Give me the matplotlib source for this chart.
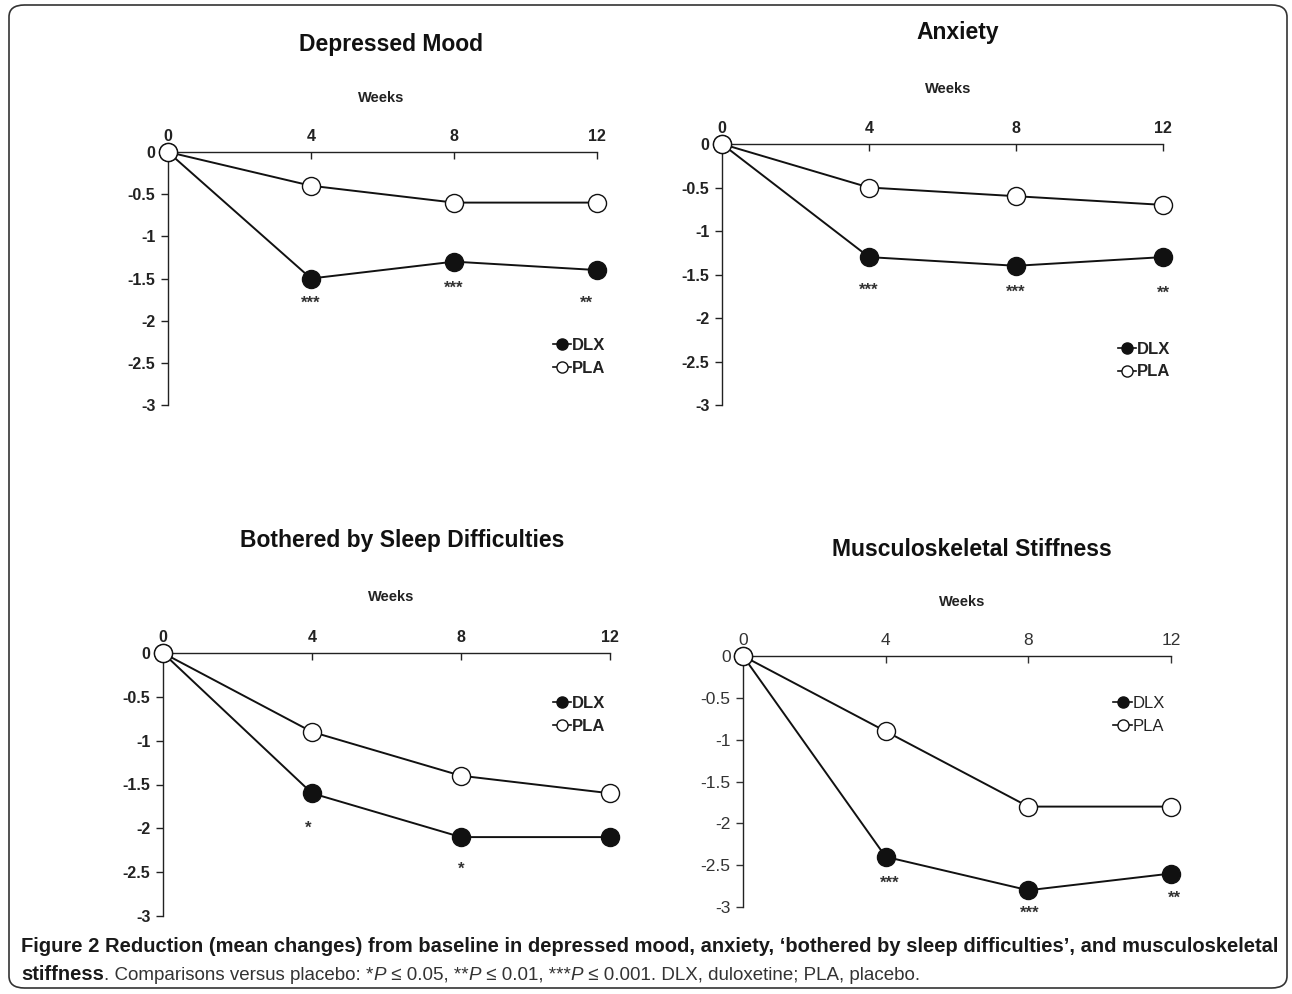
import matplotlib.pyplot as plt
from matplotlib.patches import FancyBboxPatch
from matplotlib.lines import Line2D

weeks = [0, 4, 8, 12]
titles = ['Depressed Mood', 'Anxiety', 'Bothered by Sleep Difficulties', 'Musculoskeletal Stiffness']
dlx = [
    [0, -1.5, -1.3, -1.4],
    [0, -1.3, -1.4, -1.3],
    [0, -1.6, -2.1, -2.1],
    [0, -2.4, -2.8, -2.6],
]
pla = [
    [0, -0.4, -0.6, -0.6],
    [0, -0.5, -0.6, -0.7],
    [0, -0.9, -1.4, -1.6],
    [0, -0.9, -1.8, -1.8],
]
# significance stars: (week, y position, label)
stars = [
    [(4, -1.79, '***'), (8, -1.61, '***'), (11.7, -1.79, '**')],
    [(4, -1.68, '***'), (8, -1.70, '***'), (12, -1.71, '**')],
    [(3.9, -2.0, '*'), (8, -2.47, '*')],
    [(4.1, -2.72, '***'), (8.05, -3.07, '***'), (12.1, -2.89, '**')],
]
yticks = [0, -0.5, -1, -1.5, -2, -2.5, -3]
ytick_labels = ['0', '-0.5', '-1', '-1.5', '-2', '-2.5', '-3']

W, H = 1292, 994
fig = plt.figure(figsize=(W / 100, H / 100), dpi=100)
plt.rcParams['font.family'] = ['Liberation Sans', 'DejaVu Sans']

# axes boxes in pixels: left, right, top(y=0), bottom(y=-3)
boxes = [(168, 597, 152, 405), (722, 1163, 144, 405), (163, 610, 653, 916), (743, 1171, 656, 907)]
title_pos = [(391, 44), (958, 32), (402, 541), (972, 549)]
weeks_pos = [(381, 98), (948, 89), (391, 597), (962, 602)]
legend_pos = [(1.02, 0.19), (1.016, 0.17), (0.99, 0.764), (0.986, 0.765)]
bold_ticks = [True, True, True, False]

for i in range(4):
    l, r, t, b = boxes[i]
    ax = fig.add_axes([l / W, 1 - b / H, (r - l) / W, (b - t) / H])
    ax.set_xlim(0, 12)
    ax.set_ylim(-3, 0)
    for s in ['right', 'bottom']:
        ax.spines[s].set_visible(False)
    for s in ['left', 'top']:
        ax.spines[s].set_linewidth(1.0)
        ax.spines[s].set_color('#222222')
    ax.xaxis.tick_top()
    ax.set_xticks(weeks)
    ax.set_yticks(yticks)
    ax.set_yticklabels(ytick_labels)
    fw = 'bold' if bold_ticks[i] else 'normal'
    tsize = 11.5 if bold_ticks[i] else 12.5
    tcol = '#222222' if bold_ticks[i] else '#333333'
    ax.tick_params(axis='x', direction='in', length=5, width=1, pad=6, labelsize=tsize, colors=tcol)
    ax.tick_params(axis='y', direction='out', length=5, width=1, pad=4, labelsize=tsize, colors=tcol)
    for lab in ax.get_xticklabels() + ax.get_yticklabels():
        lab.set_fontweight(fw)
    ax.xaxis.get_ticklines()[0].set_visible(False)

    ax.plot(weeks, dlx[i], color='#111111', lw=1.4, marker='o', ms=13,
            mfc='#111111', mec='#111111', clip_on=False, zorder=3)
    ax.plot(weeks, pla[i], color='#111111', lw=1.4, marker='o', ms=13,
            mfc='white', mec='#111111', mew=1.0, clip_on=False, zorder=4)

    for wk, yv, lab in stars[i]:
        ax.text(wk, yv, lab, ha='center', va='center', fontsize=12,
                fontweight='bold', color='#333333')

    handles = [Line2D([], [], color='#111111', lw=1.2, marker='o', ms=8, mfc='#111111', mec='#111111'),
               Line2D([], [], color='#111111', lw=1.2, marker='o', ms=8, mfc='white', mec='#111111')]
    leg = ax.legend(handles, ['DLX', 'PLA'], loc='center right', bbox_to_anchor=legend_pos[i],
                    frameon=False, handlelength=1.1, handletextpad=0.05, labelspacing=0.45,
                    prop={'size': 12, 'weight': fw}, borderaxespad=0, borderpad=0)
    for txt in leg.get_texts():
        txt.set_color('#222222')

    tx, ty = title_pos[i]
    fig.text(tx / W, 1 - ty / H, titles[i], ha='center', va='center', fontsize=16.5,
             fontweight='bold', color='#111111')
    wx, wy = weeks_pos[i]
    fig.text(wx / W, 1 - wy / H, 'Weeks', ha='center', va='center', fontsize=10.5,
             fontweight='bold', color='#222222')

# rounded frame
frame = FancyBboxPatch((9 / W, 6 / H), 1278 / W, 983 / H, boxstyle='round,pad=0,rounding_size=0.012',
                       transform=fig.transFigure, fill=False, lw=1.2, ec='#333333')
fig.patches.append(frame)

# caption
renderer = fig.canvas.get_renderer()


def seq_text(x_px, y_px, parts):
    x = x_px
    for s, kw in parts:
        t = fig.text(x / W, 1 - y_px / H, s, ha='left', va='center', **kw)
        x += t.get_window_extent(renderer).width


bold = {'fontweight': 'bold', 'color': '#1a1a1a', 'fontsize': 14.5}
reg = {'color': '#333333', 'fontsize': 13.5}
ital = {'color': '#333333', 'style': 'italic', 'fontsize': 13.5}
seq_text(21, 947, [("Figure 2 Reduction (mean changes) from baseline in depressed mood, anxiety, \u2018bothered by sleep difficulties\u2019, and musculoskeletal", bold)])
seq_text(21, 975, [('stiffness', bold), ('. Comparisons versus placebo: *', reg), ('P', ital),
                   (' \u2264 0.05, **', reg), ('P', ital), (' \u2264 0.01, ***', reg), ('P', ital),
                   (' \u2264 0.001. DLX, duloxetine; PLA, placebo.', reg)])

fig.savefig('out.png', dpi=100)
